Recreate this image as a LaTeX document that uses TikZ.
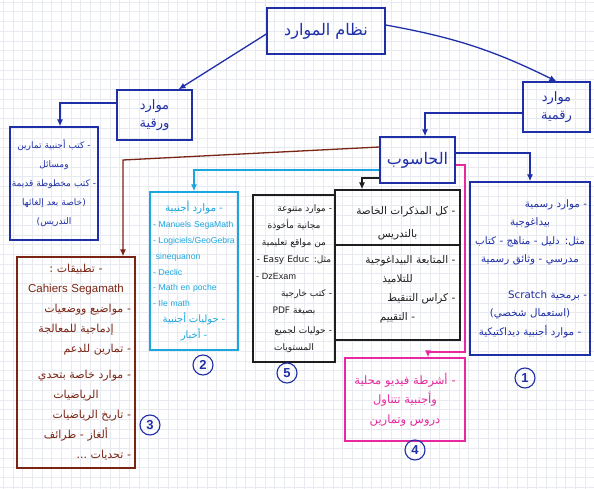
\documentclass[tikz,border=0pt]{standalone}
\usepackage{fontspec}
\setmainfont{Liberation Sans}
\newfontfamily\arfont[Script=Arabic]{DejaVu Sans}
\TeXXeTstate=1
\usetikzlibrary{arrows.meta}
\definecolor{penblue}{HTML}{1F2FA8}
\definecolor{penbrown}{HTML}{7A2414}
\definecolor{pencyan}{HTML}{1BA6E0}
\definecolor{penpink}{HTML}{E8289E}
\definecolor{penblack}{HTML}{1E1E1E}
\definecolor{paperline}{HTML}{E8EAF1}
% one right-to-left line, kept in a box so it never breaks
\newcommand{\rtl}[1]{\mbox{\arfont\beginR #1\endR}}
% one full-width line of a text block: right, centred or left
\newcommand{\linR}[1]{\noindent\hbox to\hsize{\hss #1}}
\newcommand{\linC}[1]{\noindent\hbox to\hsize{\hss #1\hss}}
\newcommand{\linL}[1]{\noindent\hbox to\hsize{#1\hss}}

\begin{document}
\begin{tikzpicture}[x=1pt,y=-1pt,
  box/.style={draw=#1, text=#1, line width=1.3pt, inner sep=0pt},
  sz/.style 2 args={minimum width=#1pt, minimum height=#2pt},
  body/.style={align=left, text width=#1pt},
  conn/.style={line width=1.3pt, -{Latex[length=7pt,width=6pt]}},
  num/.style={circle, draw=penblue, text=penblue, line width=1.1pt, minimum size=20pt, inner sep=0pt, font=\fontsize{13}{13}\selectfont\bfseries},
  fs/.style 2 args={font=\fontsize{#1}{#2}\selectfont}
]
\path[use as bounding box] (0,0) rectangle (594,489);
\clip (0,0) rectangle (594,489);
\fill[white] (0,0) rectangle (594,489);

% squared paper
\foreach \i in {0,...,61} {\draw[paperline, line width=0.4pt] ({\i*9.7+3},0) -- ({\i*9.7+3},489);}
\foreach \j in {0,...,50} {\draw[paperline, line width=0.4pt] (0,{\j*9.7+2}) -- (594,{\j*9.7+2});}

% main boxes
\node[box=penblue, sz={118}{46}, fs={16}{18}] (top) at (326,31) {\rtl{نظام الموارد}};
\node[box=penblue, sz={75}{50}, fs={13}{18}, align=center] (paper) at (154.5,115) {\rtl{موارد}\\\rtl{ورقية}};
\node[box=penblue, sz={67}{50}, fs={13}{18}, align=center] (digital) at (556.5,107) {\rtl{موارد}\\\rtl{رقمية}};

\node[box=penblue, sz={88}{113}, fs={9}{19}, body=84] (leftbox) at (54,183.5) {
  \linC{\rtl{- كتب أجنبية تمارين}}\\
  \linC{\rtl{ومسائل}}\\
  \linC{\rtl{- كتب مخطوطة قديمة}}\\
  \linC{\rtl{(خاصة بعد إلغائها}}\\
  \linC{\rtl{التدريس)}}};

\node[box=penblue, sz={75}{46}, fs={16}{18}] (computer) at (417.5,160) {\rtl{الحاسوب}};

\node[box=pencyan, sz={88}{158}, fs={8.6}{15.8}, body=82] (cyanbox) at (194,271) {
  \linC{\fontsize{10.5}{15.8}\selectfont\rtl{- موارد أجنبية}}\\
  \linL{- Manuels SegaMath}\\
  \linL{- Logiciels/GeoGebra}\\
  \linL{\ sinequanon}\\
  \linL{- Declic}\\
  \linL{- Math en poche}\\
  \linL{- Ile math}\\
  \linC{\fontsize{10}{15.8}\selectfont\rtl{- حوليات أجنبية}}\\
  \linC{\fontsize{10}{15.8}\selectfont\rtl{- أخبار}}};

\node[box=penblack, sz={82}{167}, fs={9}{17}, body=76] (box5) at (294,278.5) {
  \linR{\rtl{- موارد متنوعة}}\\
  \linC{\rtl{مجانية مأخوذة}}\\
  \linC{\rtl{من مواقع تعليمية}}\\
  \linC{\rtl{مثل: \beginL - Easy Educ\endL}}\\
  \linL{- DzExam}\\
  \linR{\rtl{- كتب خارجية}}\\
  \linC{\rtl{بصيغة \beginL PDF\endL}}\\[3pt]
  \linR{\rtl{- حوليات لجميع}}\\
  \linC{\rtl{المستويات}}};

\node[box=penblack, sz={125}{150}] (mid) at (397.5,265) {};
\coordinate (divy) at (0,245);
\draw[penblack, line width=1.3pt] (mid.west |- divy) -- (mid.east |- divy);
\node[text=penblack, fs={10.5}{23}, body=116] (midtop) at (397.5,223) {
  \linR{\rtl{- كل المذكرات الخاصة}}\\
  \linC{\rtl{بالتدريس}}};
\node[text=penblack, fs={10.5}{19}, body=116] (midbot) at (397.5,289) {
  \linR{\rtl{- المتابعة البيداغوجية}}\\
  \linC{\rtl{للتلاميذ}}\\
  \linR{\rtl{- كراس التنقيط}}\\
  \linC{\rtl{- التقييم}}};

\node[box=penblue, sz={120}{173}, fs={10.3}{18.5}, body=114] (bluebox) at (530,268.5) {
  \linR{\rtl{- موارد رسمية}}\\
  \linC{\rtl{بيداغوجية}}\\
  \linC{\rtl{مثل: دليل - مناهج - كتاب}}\\
  \linC{\rtl{مدرسي - وثائق رسمية}}\\[17pt]
  \linR{\rtl{- برمجية \beginL Scratch\endL}}\\
  \linC{\rtl{(استعمال شخصي)}}\\
  \linC{\rtl{- موارد أجنبية ديداكتيكية}}};

\node[box=penbrown, sz={118}{211}, fs={11}{20}, body=110] (brownbox) at (76,362.5) {
  \linC{\rtl{- تطبيقات :}}\\
  \linC{\fontsize{11.5}{20}\selectfont Cahiers Segamath}\\
  \linR{\rtl{- مواضيع ووضعيات}}\\
  \linC{\rtl{إدماجية للمعالجة}}\\
  \linR{\rtl{- تمارين للدعم}}\\[6pt]
  \linR{\rtl{- موارد خاصة بتحدي}}\\
  \linC{\rtl{الرياضيات}}\\
  \linR{\rtl{- تاريخ الرياضيات}}\\
  \linC{\rtl{ألغاز - طرائف}}\\
  \linR{\rtl{- تحديات ...}}};

\node[box=penpink, sz={120}{83}, fs={11.5}{19.5}, body=112] (pinkbox) at (405,399.5) {
  \linC{\rtl{- أشرطة فيديو محلية}}\\
  \linC{\rtl{وأجنبية تتناول}}\\
  \linC{\rtl{دروس وتمارين}}};

% numbered tags
\node[num] (n1) at (525,378) {1};
\node[num] (n2) at (203,365) {2};
\node[num] (n3) at (150,425) {3};
\node[num] (n4) at (415,450) {4};
\node[num] (n5) at (287,373) {5};

% connectors
\draw[conn, penblue] ([yshift=-3pt]top.west) -- ([xshift=24pt]paper.north);
\draw[conn, penblue] ([yshift=6pt]top.east) to[bend left=8] (digital.north);
\draw[conn, penblue] ([yshift=12pt]paper.west) -| ([xshift=6pt]leftbox.north);
\draw[conn, penblue] ([yshift=-6pt]digital.west) -| ([xshift=7.5pt]computer.north);
\draw[conn, penblue] ([yshift=7pt]computer.east) -| (bluebox.north);
\coordinate (bc) at (123,160);
\draw[conn, penbrown] ([yshift=13pt]computer.west) -- (bc) -- ([xshift=47pt]brownbox.north);
\draw[conn, pencyan] ([yshift=-10pt]computer.west) -| (cyanbox.north);
\draw[conn, penblack] ([yshift=-18pt]computer.west) -| ([xshift=-35.5pt]mid.north);
\coordinate (pk) at (465,352);
\draw[conn, penpink] ([yshift=-5pt]computer.east) -| (pk) -| ([xshift=23pt]pinkbox.north);
\end{tikzpicture}
\end{document}
